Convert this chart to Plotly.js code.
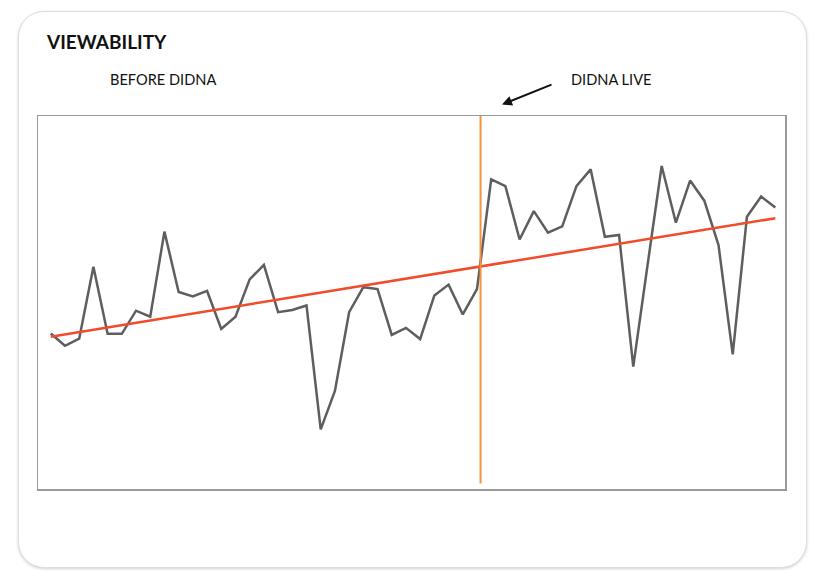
<!DOCTYPE html>
<html>
<head>
<meta charset="utf-8">
<script src="https://cdn.plot.ly/plotly-3.0.1.min.js"></script>
<style>
  html, body { margin: 0; padding: 0; background: #ffffff; width: 820px; height: 586px; overflow: hidden; }
  #card { position: absolute; left: 18px; top: 11px; width: 787px; height: 555px;
          border: 1px solid #dedede; border-radius: 26px; background: #fff;
          box-shadow: 0 1px 3px rgba(0,0,0,0.18); }
  #chart { position: absolute; left: 0; top: 0; width: 820px; height: 586px; }
</style>
</head>
<body>
<div id="card"></div>
<div id="chart"></div>
<script>
// Weekly viewability index (0-100 scale)
const periods = Array.from({length: 52}, (_, i) => i);
const viewability = [
  41.7, 38.4, 40.3, 59.6, 41.6, 41.6, 47.8, 46.2, 69.0, 52.8,
  51.6, 53.1, 42.9, 46.2, 56.2, 60.1, 47.4, 48.0, 49.2, 16.0,
  26.3, 47.4, 54.1, 53.6, 41.3, 43.2, 40.2, 51.9, 54.8, 46.8,
  53.6, 83.0, 81.2, 66.9, 74.5, 68.7, 70.4, 81.2, 85.7, 67.6,
  68.1, 32.8, 59.9, 86.6, 71.4, 82.7, 77.3, 65.4, 36.1, 73.0,
  78.4, 75.5
];
const trendX = [0, 51];
const trendY = [40.8, 72.6];
const liveAt = [30.25];
const liveSpan = [1.5, 100];
const labels = { title: 'VIEWABILITY', before: 'BEFORE DIDNA', live: 'DIDNA LIVE' };

const traces = [
  { x: periods, y: viewability, type: 'scatter', mode: 'lines',
    line: { color: '#5e5e5e', width: 2.5 }, hoverinfo: 'skip' },
  { x: trendX, y: trendY, type: 'scatter', mode: 'lines',
    line: { color: '#f24b2b', width: 2.5 }, hoverinfo: 'skip' }
];

const layout = {
  width: 820, height: 586,
  margin: { l: 38, r: 35, t: 116, b: 97 },
  paper_bgcolor: 'rgba(0,0,0,0)',
  plot_bgcolor: 'rgba(0,0,0,0)',
  showlegend: false,
  font: { family: 'Lato, sans-serif', color: '#111' },
  title: { text: '<b>' + labels.title + '</b>', xref: 'container', yref: 'container',
           x: 47 / 820, xanchor: 'left', y: 1 - 42 / 586, yanchor: 'middle',
           font: { family: 'Lato, sans-serif', size: 19, color: '#111' } },
  xaxis: { range: [-0.9, 51.68], showgrid: false, zeroline: false, showticklabels: false,
           ticks: '', showline: true, mirror: true, linecolor: '#9a9a9a', linewidth: 1.5, fixedrange: true },
  yaxis: { range: [0, 100], showgrid: false, zeroline: false, showticklabels: false,
           ticks: '', showline: true, mirror: true, linecolor: '#9a9a9a', linewidth: 1.5, fixedrange: true },
  shapes: [
    { type: 'line', xref: 'x', yref: 'y', x0: liveAt[0], x1: liveAt[0], y0: liveSpan[0], y1: liveSpan[1],
      line: { color: '#f7923a', width: 2 }, layer: 'above' }
  ],
  annotations: [
    { text: labels.before, xref: 'paper', yref: 'paper', x: (108 - 38) / 747, y: (489 - 80) / 373,
      xanchor: 'left', yanchor: 'middle', showarrow: false,
      font: { family: 'Lato, sans-serif', size: 14.6, color: '#111' } },
    { text: labels.live, xref: 'paper', yref: 'paper', x: (569 - 38) / 747, y: (489 - 80) / 373,
      xanchor: 'left', yanchor: 'middle', showarrow: false,
      font: { family: 'Lato, sans-serif', size: 14.6, color: '#111' } },
    { text: '', xref: 'paper', yref: 'paper', x: (502 - 38) / 747, y: (489 - 104.5) / 373,
      showarrow: true, ax: 51, ay: -20.5, arrowhead: 2, arrowsize: 1, arrowwidth: 2,
      arrowcolor: '#111', standoff: 0 }
  ]
};

Plotly.newPlot('chart', traces, layout, { displayModeBar: false, staticPlot: true });
</script>
</body>
</html>
